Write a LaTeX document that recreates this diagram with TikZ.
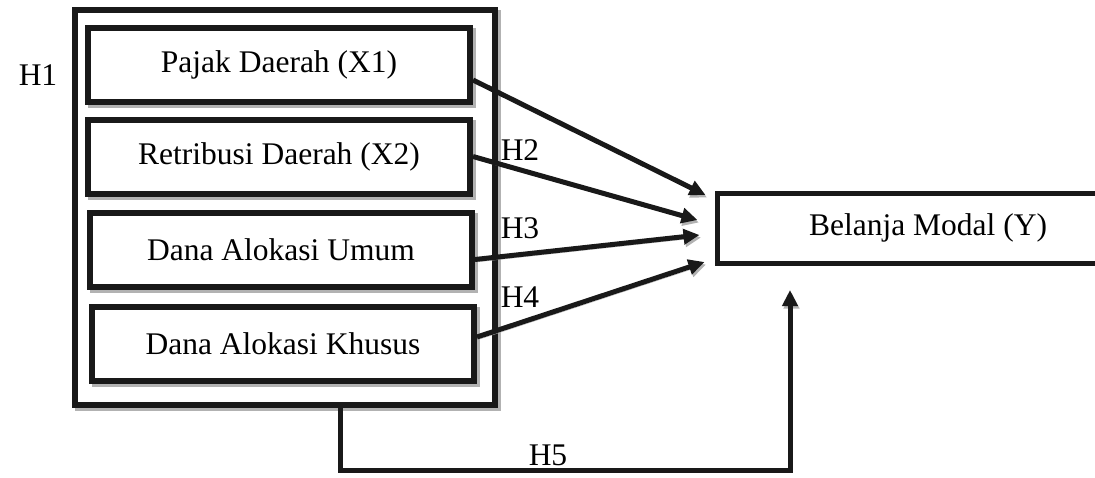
\documentclass[tikz,border=0pt]{standalone}
\usepackage{fontspec}
\setmainfont{Liberation Serif}
\usetikzlibrary{arrows.meta}

\tikzset{
  boxshadow/.style={preaction={draw=gray!60,transform canvas={shift={(2.5pt,-3pt)}}}},
  bigbox/.style={shape=rectangle,draw=black!90,line width=6pt,fill=white,boxshadow,
    minimum width=420pt,minimum height=395pt,inner sep=0pt},
  varbox/.style={shape=rectangle,draw=black!90,line width=6pt,fill=white,boxshadow,
    minimum width=382pt,minimum height=74pt,inner sep=0pt},
  ybox/.style={shape=rectangle,draw=black!90,line width=5pt,fill=white,
    minimum width=422pt,minimum height=70pt,inner sep=0pt},
  arr/.style={draw=black!90,line width=5pt,-{Triangle[length=16pt,width=15pt]},
    preaction={draw=gray!60,transform canvas={shift={(1.5pt,-2.5pt)}}}},
  lbl/.style={inner sep=0pt}
}

\begin{document}
\begin{tikzpicture}[x=1pt,y=-1pt,font=\fontsize{31.5}{37}\selectfont]
\useasboundingbox (0,0) rectangle (1095,477);
\node[bigbox] (all) at (285,207.5) {};
\node[varbox] (X1) at (279,65) {Pajak Daerah (X1)};
\node[varbox] (X2) at (279,156.5) {Retribusi Daerah (X2)};
\node[varbox] (X3) at (281,249.5) {Dana Alokasi Umum};
\node[varbox] (X4) at (283,344) {Dana Alokasi Khusus};
\node[ybox] (Y) at (928,228) {Belanja Modal (Y)};
\coordinate (c5) at (790,470);
\coordinate (t5) at (790,290);
\draw [arr] ([yshift=-15pt]X1.east) -- ([xshift=-9pt,yshift=33pt]Y.west);
\draw [arr] (X2.east) -- ([xshift=-17pt,yshift=8pt]Y.west);
\draw [arr] ([yshift=-10pt]X3.east) -- ([xshift=-15pt,yshift=-7pt]Y.west);
\draw [arr] ([yshift=7pt]X4.east) -- ([xshift=-10pt,yshift=-34pt]Y.west);
\draw [arr] ([xshift=55pt]all.south) |- (c5) -- (t5);
\node[lbl] (h1) at (38,75) {H1};
\node[lbl] (h2) at (520,150) {H2};
\node[lbl] (h3) at (520,228) {H3};
\node[lbl] (h4) at (520,297) {H4};
\node[lbl] (h5) at (548,455) {H5};
\end{tikzpicture}
\end{document}
